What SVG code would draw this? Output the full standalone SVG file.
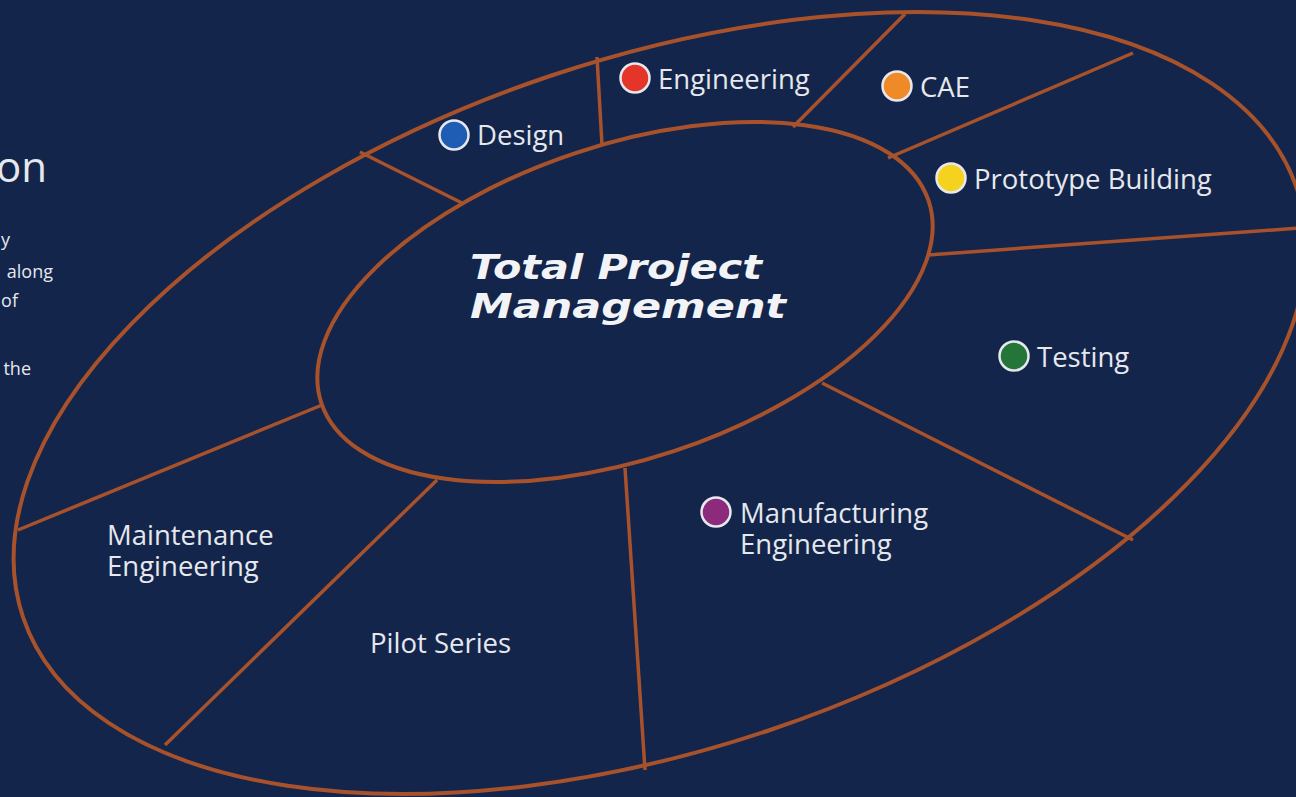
<svg xmlns="http://www.w3.org/2000/svg" width="1296" height="797" viewBox="0 0 1296 797">
<style>
.ring{fill:none;stroke:#a8522c;stroke-width:4}
.div{stroke:#a8522c;stroke-width:3.5;fill:none}
.lbl{font-family:"Open Sans","Noto Sans",sans-serif;font-size:27.5px;fill:#e6e8ee}
.side{font-family:"Open Sans","Noto Sans",sans-serif;font-size:18px;fill:#e6e8ee}
.title{font-family:"DejaVu Sans",Verdana,sans-serif;font-weight:bold;font-style:italic;font-size:34px;fill:#f2f3f6}
.dot{stroke:#e6e8ee;stroke-width:2.5}
</style>
<rect width="1296" height="797" fill="#13254a"/>
<g id="side-text">
<text class="side" x="47" y="182" text-anchor="end" style="font-size:42px">on</text>
<text class="side" x="10" y="246" text-anchor="end">y</text>
<text class="side" x="53" y="278" text-anchor="end">along</text>
<text class="side" x="18" y="307" text-anchor="end">of</text>
<text class="side" x="31" y="375" text-anchor="end">the</text>
</g>
<g id="connectors">
<ellipse id="outer-ring" class="ring" cx="660" cy="403" rx="672" ry="345" transform="rotate(-18.6 660 403)"/>
<line class="div" x1="360" y1="152" x2="462" y2="203"/>
<line class="div" x1="597" y1="57" x2="602" y2="145"/>
<line class="div" x1="905" y1="14" x2="793" y2="127"/>
<line class="div" x1="1133" y1="53" x2="888" y2="158"/>
<line class="div" x1="1300" y1="228" x2="928" y2="255"/>
<line class="div" x1="1133" y1="540" x2="822" y2="383"/>
<line class="div" x1="645" y1="770" x2="625" y2="468"/>
<line class="div" x1="165" y1="745" x2="437" y2="480"/>
<line class="div" x1="18" y1="530" x2="322" y2="405"/>
</g>
<g id="center">
<ellipse class="ring" cx="625" cy="302" rx="320" ry="157" transform="rotate(-18.4 625 302)"/>
<text class="title" x="470" y="279" textLength="292" lengthAdjust="spacingAndGlyphs">Total Project</text>
<text class="title" x="470" y="318" textLength="316" lengthAdjust="spacingAndGlyphs">Management</text>
</g>
<g id="design">
<circle class="dot" cx="454" cy="135" r="14.5" fill="#1f5db4"/>
<text class="lbl" x="477" y="145">Design</text>
</g>
<g id="engineering">
<circle class="dot" cx="635" cy="78" r="14.5" fill="#e5352a"/>
<text class="lbl" x="658" y="89">Engineering</text>
</g>
<g id="cae">
<circle class="dot" cx="897" cy="86" r="14.5" fill="#f08a27"/>
<text class="lbl" x="920" y="97">CAE</text>
</g>
<g id="prototype">
<circle class="dot" cx="951" cy="178" r="14.5" fill="#f4d21e"/>
<text class="lbl" x="974" y="189">Prototype Building</text>
</g>
<g id="testing">
<circle class="dot" cx="1014" cy="356" r="14.5" fill="#247538"/>
<text class="lbl" x="1037" y="367">Testing</text>
</g>
<g id="manufacturing">
<circle class="dot" cx="716" cy="512" r="14.5" fill="#8c2a7c"/>
<text class="lbl" x="740" y="523">Manufacturing<tspan x="740" dy="31">Engineering</tspan></text>
</g>
<g id="pilot">
<text class="lbl" x="370" y="653">Pilot Series</text>
</g>
<g id="maintenance">
<text class="lbl" x="107" y="545">Maintenance<tspan x="107" dy="31">Engineering</tspan></text>
</g>
</svg>
